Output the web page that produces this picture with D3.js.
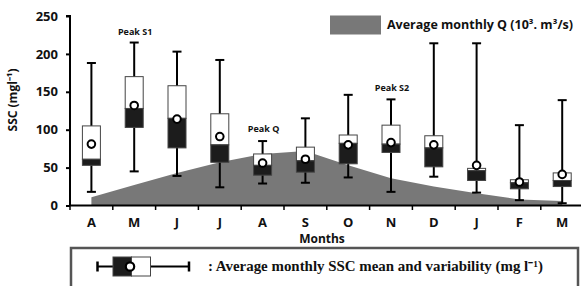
<!DOCTYPE html>
<html><head><meta charset="utf-8">
<script src="https://cdn.jsdelivr.net/npm/d3@7/dist/d3.min.js"></script>
<style>body{margin:0;background:#fff}svg{display:block}</style>
</head><body>
<script>
const months = ["A","M","J","J","A","S","O","N","D","J","F","M"];
const whiskerMax = [188,215,203,192,85,115,146,140,214,214,106,139];
const q3 = [105,170,158,121,68,77,93,106,92,49,34,43];
const median = [61,128,115,80,53,59,82,81,76,46,30,33];
const q1 = [53,103,76,57,40,44,55,70,51,33,22,25];
const whiskerMin = [18,45,39,24,29,30,37,18,38,17,7,3];
const meanSSC = [81,132,114,91,56,61,80,83,80,53,31,41];
const avgQ = [11,27,43,57,68,72,53,36,25,16,8,6];
const yTicks = [0,50,100,150,200,250];
const peaks = [{i:1,label:"Peak S1"},{i:4,label:"Peak Q"},{i:7,label:"Peak S2"}];

const W = 581, H = 286;
const svg = d3.select("body").append("svg").attr("width",W).attr("height",H);
const x = d3.scaleBand().domain(d3.range(months.length)).range([70,583.6]).padding(0);
const y = d3.scaleLinear().domain([0,250]).range([205.5,16]);
const cx = i => x(i) + x.bandwidth()/2;
const font = "'Open Sans', sans-serif";

// area
const area = d3.area().x((d,i)=>cx(i)).y0(y(0)).y1(d=>y(d));
svg.append("path").datum(avgQ).attr("d",area).attr("fill","#787878");

// axes
const yAxis = svg.append("g").attr("transform","translate(70,0)")
  .call(d3.axisLeft(y).tickValues(yTicks).tickSize(4).tickPadding(8));
yAxis.select(".domain").attr("stroke","#000").attr("stroke-width",2).attr("d","M-4,16H0V205.5");
yAxis.selectAll(".tick line").attr("stroke","#000").attr("stroke-width",2);
yAxis.selectAll("text").attr("font-family",font).attr("font-weight","bold").attr("font-size",13).attr("fill","#111");

const xAxis = svg.append("g").attr("transform","translate(0,205.5)")
  .call(d3.axisBottom(x).tickFormat(i=>months[i]).tickSize(0).tickPadding(12));
xAxis.select(".domain").attr("stroke","#000").attr("stroke-width",2).attr("d","M70,0H581");
xAxis.selectAll("text").attr("font-family",font).attr("font-weight","bold").attr("font-size",13).attr("fill","#111");
svg.append("g").selectAll("line").data(d3.range(months.length)).join("line")
  .attr("x1",i=>x(i)).attr("x2",i=>x(i)).attr("y1",205.5).attr("y2",210)
  .attr("stroke","#000").attr("stroke-width",1.5);

// boxes
const bw = 18, cap = 9;
const g = svg.append("g").selectAll("g").data(months).join("g");
g.append("line").attr("x1",(d,i)=>cx(i)).attr("x2",(d,i)=>cx(i))
  .attr("y1",(d,i)=>y(whiskerMax[i])).attr("y2",(d,i)=>y(whiskerMin[i]))
  .attr("stroke","#000").attr("stroke-width",2);
g.append("line").attr("x1",(d,i)=>cx(i)-cap/2).attr("x2",(d,i)=>cx(i)+cap/2)
  .attr("y1",(d,i)=>y(whiskerMax[i])).attr("y2",(d,i)=>y(whiskerMax[i]))
  .attr("stroke","#000").attr("stroke-width",2);
g.append("line").attr("x1",(d,i)=>cx(i)-cap/2).attr("x2",(d,i)=>cx(i)+cap/2)
  .attr("y1",(d,i)=>y(whiskerMin[i])).attr("y2",(d,i)=>y(whiskerMin[i]))
  .attr("stroke","#000").attr("stroke-width",2);
g.append("rect").attr("x",(d,i)=>cx(i)-bw/2).attr("width",bw)
  .attr("y",(d,i)=>y(q3[i])).attr("height",(d,i)=>y(median[i])-y(q3[i]))
  .attr("fill","#fff").attr("stroke","#444").attr("stroke-width",1);
g.append("rect").attr("x",(d,i)=>cx(i)-bw/2).attr("width",bw)
  .attr("y",(d,i)=>y(median[i])).attr("height",(d,i)=>y(q1[i])-y(median[i]))
  .attr("fill","#1c1c1c").attr("stroke","#444").attr("stroke-width",1);
g.append("circle").attr("cx",(d,i)=>cx(i)).attr("cy",(d,i)=>y(meanSSC[i])).attr("r",3.8)
  .attr("fill","#fff").attr("stroke","#000").attr("stroke-width",2);

// peak labels
const peakY = {1:35,4:132,7:91};
svg.append("g").selectAll("text").data(peaks).join("text")
  .attr("x",d=>cx(d.i)+1).attr("y",d=>peakY[d.i]).attr("text-anchor","middle")
  .attr("font-family",font).attr("font-weight","bold").attr("font-size",9).attr("fill","#111")
  .text(d=>d.label);

// y label
svg.append("text").attr("transform","translate(17,100) rotate(-90)").attr("text-anchor","middle")
  .attr("font-family",font).attr("font-weight","bold").attr("font-size",12).attr("fill","#111")
  .text("SSC (mgl⁻¹)");
// x label
svg.append("text").attr("x",322).attr("y",243).attr("text-anchor","middle")
  .attr("font-family",font).attr("font-weight","bold").attr("font-size",12).attr("fill","#111")
  .text("Months");

// top legend
svg.append("rect").attr("x",330).attr("y",15.5).attr("width",51).attr("height",19).attr("fill","#787878");
svg.append("text").attr("x",387).attr("y",29).attr("font-family",font).attr("font-weight","bold")
  .attr("font-size",12).attr("fill","#111").attr("textLength",186).attr("lengthAdjust","spacingAndGlyphs")
  .text("Average monthly Q (10³. m³/s)");

// bottom legend
svg.append("path").attr("d","M71,290V248H578V290").attr("fill","none").attr("stroke","#555").attr("stroke-width",2.5);
const ly = 266.5;
svg.append("line").attr("x1",97.5).attr("x2",189).attr("y1",ly).attr("y2",ly).attr("stroke","#000").attr("stroke-width",2);
svg.append("line").attr("x1",97.5).attr("x2",97.5).attr("y1",ly-5).attr("y2",ly+5).attr("stroke","#000").attr("stroke-width",2.5);
svg.append("line").attr("x1",189).attr("x2",189).attr("y1",ly-5).attr("y2",ly+5).attr("stroke","#000").attr("stroke-width",2.5);
svg.append("rect").attr("x",113).attr("y",257).attr("width",18.5).attr("height",19).attr("fill","#1c1c1c").attr("stroke","#444");
svg.append("rect").attr("x",131.5).attr("y",257).attr("width",19).attr("height",19).attr("fill","#fff").attr("stroke","#444");
svg.append("circle").attr("cx",130).attr("cy",ly).attr("r",4.2).attr("fill","#fff").attr("stroke","#000").attr("stroke-width",2.2);
svg.append("text").attr("x",208).attr("y",271).attr("font-family","'Liberation Serif', serif").attr("font-weight","bold")
  .attr("font-size",14).attr("fill","#111").attr("textLength",335).attr("lengthAdjust","spacingAndGlyphs")
  .text(": Average monthly SSC mean and variability (mg l⁻¹)");
</script>
</body></html>
